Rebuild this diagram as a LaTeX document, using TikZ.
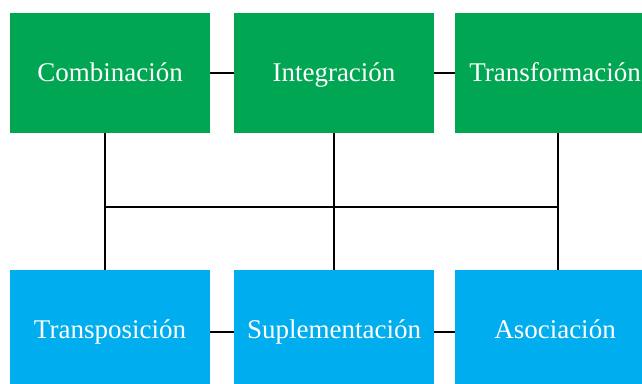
\documentclass[tikz,border=0pt]{standalone}
\usepackage{fontspec}
\setmainfont{Liberation Serif}
\definecolor{boxgreen}{RGB}{0,166,81}
\definecolor{boxblue}{RGB}{0,174,239}
\tikzset{
  greenbox/.style={fill=boxgreen,text=white,minimum width=200pt,minimum height=120pt,inner sep=0pt,
    text height=19pt,text depth=2pt,font=\fontsize{27}{30}\selectfont},
  bluebox/.style={greenbox,fill=boxblue},
  link/.style={line width=2pt,black}
}
\begin{document}
\begin{tikzpicture}[x=1pt,y=-1pt]
\useasboundingbox (0,0) rectangle (642,383);
\clip (0,0) rectangle (642,383);
\node[greenbox] (comb) at (110,73) {Combinación};
\node[greenbox] (integ) at (334,73) {Integración};
\node[greenbox] (transf) at (555,73) {Transformación};
\node[bluebox] (transp) at (110,330) {Transposición};
\node[bluebox] (suple) at (334,330) {Suplementación};
\node[bluebox] (asoc) at (555,330) {Asociación};
\coordinate (busL) at (105,207);
\coordinate (busR) at (558,207);
\draw[link] (comb) -- (integ);
\draw[link] (integ) -- (transf);
\draw[link] ([yshift=-2pt]transp.east) -- ([yshift=-2pt]suple.west);
\draw[link] ([yshift=-2pt]suple.east) -- ([yshift=-2pt]asoc.west);
\draw[link] (comb.south -| busL) -- (transp.north -| busL);
\draw[link] (integ.south) -- (suple.north);
\draw[link] (transf.south -| busR) -- (asoc.north -| busR);
\draw[link] (busL) -- (busR);
\end{tikzpicture}
\end{document}
